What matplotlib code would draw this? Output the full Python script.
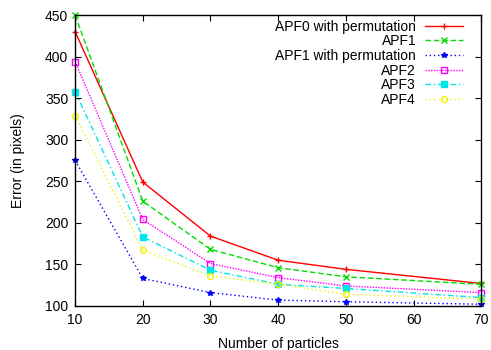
import matplotlib
matplotlib.use("Agg")
import matplotlib.pyplot as plt

# number of particles
particles = [10, 20, 30, 40, 50, 70]

# error (in pixels) per filter
apf0_perm = [430, 249, 184, 155, 144, 127]
apf1 = [450, 226, 168, 146, 135, 126]
apf1_perm = [275, 133, 116, 107, 105, 102]
apf2 = [394, 204, 151, 134, 124, 116]
apf3 = [358, 183, 143, 126, 121, 110]
apf4 = [329, 167, 136, 126, 114, 108]

labels = ["APF0 with permutation", "APF1", "APF1 with permutation",
          "APF2", "APF3", "APF4"]
series = [apf0_perm, apf1, apf1_perm, apf2, apf3, apf4]
colors = ["#ff0000", "#00dd00", "#0000ff", "#ff00ff", "#00e5e5", "#f2f200"]
styles = ["-", (0, (4, 2)), (0, (1, 2)), (0, (1, 1)), (0, (4, 2, 1, 2)), (0, (1, 2))]
markers = ["+", "x", "*", "s", "s", "o"]
fills = ["full", "full", "full", "none", "full", "none"]

plt.rcParams["font.family"] = ["Liberation Sans", "DejaVu Sans"]

fig = plt.figure(figsize=(4.91, 3.5), dpi=100)
ax = fig.add_axes([0.153, 0.126, 0.827, 0.831])

for y, lab, c, ls, m, fs in zip(series, labels, colors, styles, markers, fills):
    ax.plot(particles, y, color=c, linestyle=ls, linewidth=1, marker=m,
            markersize=4.2, fillstyle=fs, markeredgewidth=1, label=lab,
            clip_on=False)

ax.set_xlim(10, 70)
ax.set_ylim(100, 450)
ax.set_xticks(range(10, 71, 10))
ax.set_yticks(range(100, 451, 50))
ax.tick_params(direction="in", top=True, right=True, labelsize=10,
               length=4, width=0.8, pad=5)
for s in ax.spines.values():
    s.set_linewidth(1)
ax.set_xlabel("Number of particles", fontsize=10, labelpad=7)
ax.set_ylabel("Error (in pixels)", fontsize=10, labelpad=14)

ax.legend(loc="upper right", bbox_to_anchor=(0.963, 0.994), frameon=False,
          markerfirst=False, fontsize=10, handlelength=2.75,
          handletextpad=0.65, labelspacing=0.05, borderaxespad=0.0,
          borderpad=0.2)

fig.savefig("out.png", dpi=100)
